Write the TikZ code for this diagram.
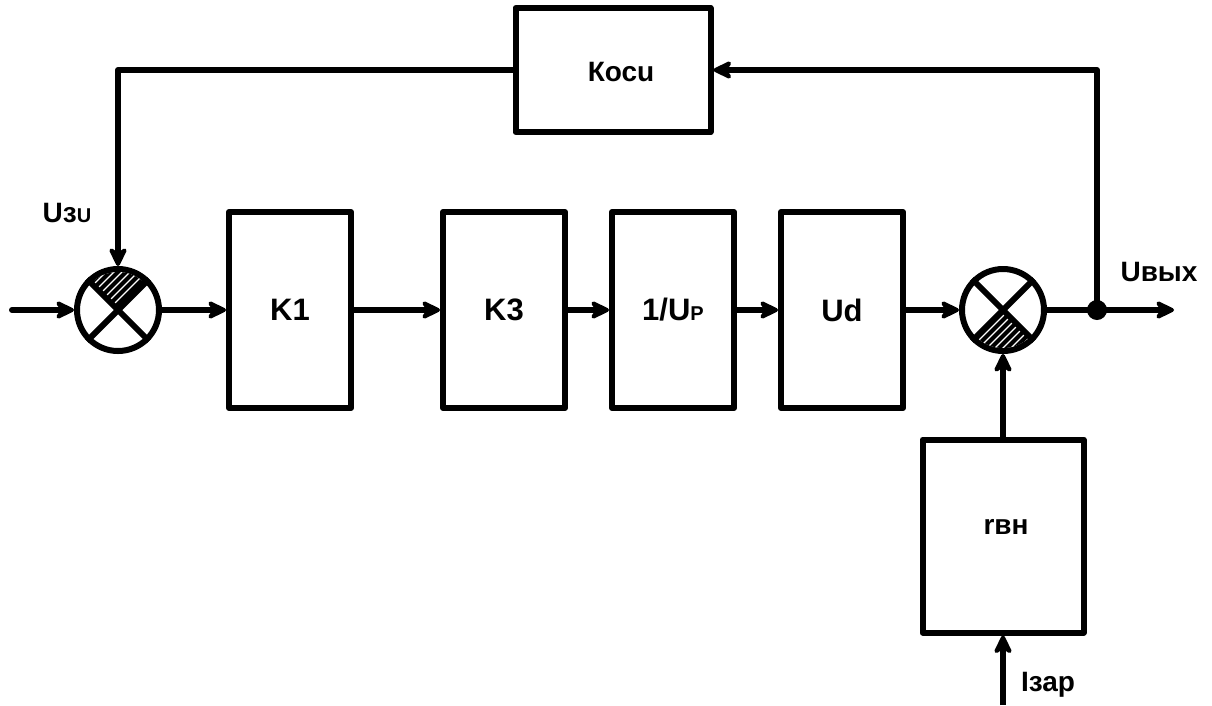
\documentclass[tikz,border=0pt]{standalone}
\usepackage{fontspec}
\setmainfont{Liberation Sans}
\usetikzlibrary{arrows.meta}
% smaller capitals used in the indices
\newcommand\idx[1]{{\fontsize{20}{20}\selectfont #1}}
\begin{document}
\begin{tikzpicture}[x=1pt,y=-1pt,line width=6pt,line join=round,
  blk/.style={draw,rectangle,inner sep=0pt,minimum width=122pt,minimum height=196pt},
  sumnode/.style={draw,circle,inner sep=0pt,minimum size=82pt},
  lbl/.style={font=\fontsize{31}{31}\selectfont\bfseries,inner sep=0pt},
  sml/.style={font=\fontsize{28}{28}\selectfont\bfseries,inner sep=0pt},
  arr/.style={-{Stealth[length=24pt,width=23pt,inset=8pt,round]}},
  hatchline/.style={white,line width=1.2pt}]
\useasboundingbox (0,0) rectangle (1212,705);

% forward path
\node[sumnode] (s1) at (118,310) {};
\node[blk] (k1) at (290,310) {};
\node[blk] (k3) at (504,310) {};
\node[blk] (up) at (673,310) {};
\node[blk] (ud) at (842,310) {};
\node[sumnode] (s2) at (1003,310) {};

% feedback and disturbance blocks
\node[blk,minimum width=195pt,minimum height=124pt] (koc) at (613,70) {};
\node[blk,minimum width=161pt,minimum height=193pt] (rvn) at (1003,536) {};

% block texts
\node[lbl] at (k1) {K1};
\node[lbl] at (k3) {K3};
\node[lbl] at (up) {1/U\idx{P}};
\node[lbl] at (ud) {Ud};
\node[sml] at (621,72) {Косu};
\node[sml] at (1006,527) {rвн};
\node[sml] at (67,213) {Uз\idx{U}};
\node[sml] at (1159,272) {Uвых};
\node[sml,anchor=base west] at (1018,691) {Iзар};

% hatched quadrants of the summing junctions
\begin{scope}
  \clip (s1.center) circle[radius=38pt];
  \clip (s1.center) -- ++(100,-100) -- ++(-200,0) -- cycle;
  \fill (s1.center) circle[radius=41pt];
  \foreach \i in {-90,-82,...,90}
    \draw[hatchline] ([xshift=\i pt]s1.center) ++(-60,60) -- ++(120,-120);
\end{scope}
\begin{scope}
  \clip (s2.center) circle[radius=38pt];
  \clip (s2.center) -- ++(100,100) -- ++(-200,0) -- cycle;
  \fill (s2.center) circle[radius=41pt];
  \foreach \i in {-90,-82,...,90}
    \draw[hatchline] ([xshift=\i pt]s2.center) ++(-60,60) -- ++(120,-120);
\end{scope}

% crosses
\foreach \s in {s1,s2} {
  \draw (\s.45) -- (\s.225);
  \draw (\s.135) -- (\s.315);
}

% connectors
\coordinate (in) at (12,310);
\coordinate (node) at (1097,310);
\coordinate (out) at (1174,310);
\coordinate (iz) at (1003,705);
\draw[arr,line cap=round] (in) -- (s1.west);
\draw[arr] (s1.east) -- (k1.west);
\draw[arr] (k1.east) -- (k3.west);
\draw[arr] (k3.east) -- (up.west);
\draw[arr] (up.east) -- (ud.west);
\draw[arr] (ud.east) -- (s2.west);
\draw[arr] (s2.east) -- (out);
\draw[arr] (node) |- (koc.east);
\draw[arr] (koc.west) -| (s1.north);
\draw[arr] (rvn.north) -- (s2.south);
\draw[arr] (iz) -- (rvn.south);
\fill (node) circle[radius=10pt];
\end{tikzpicture}
\end{document}
